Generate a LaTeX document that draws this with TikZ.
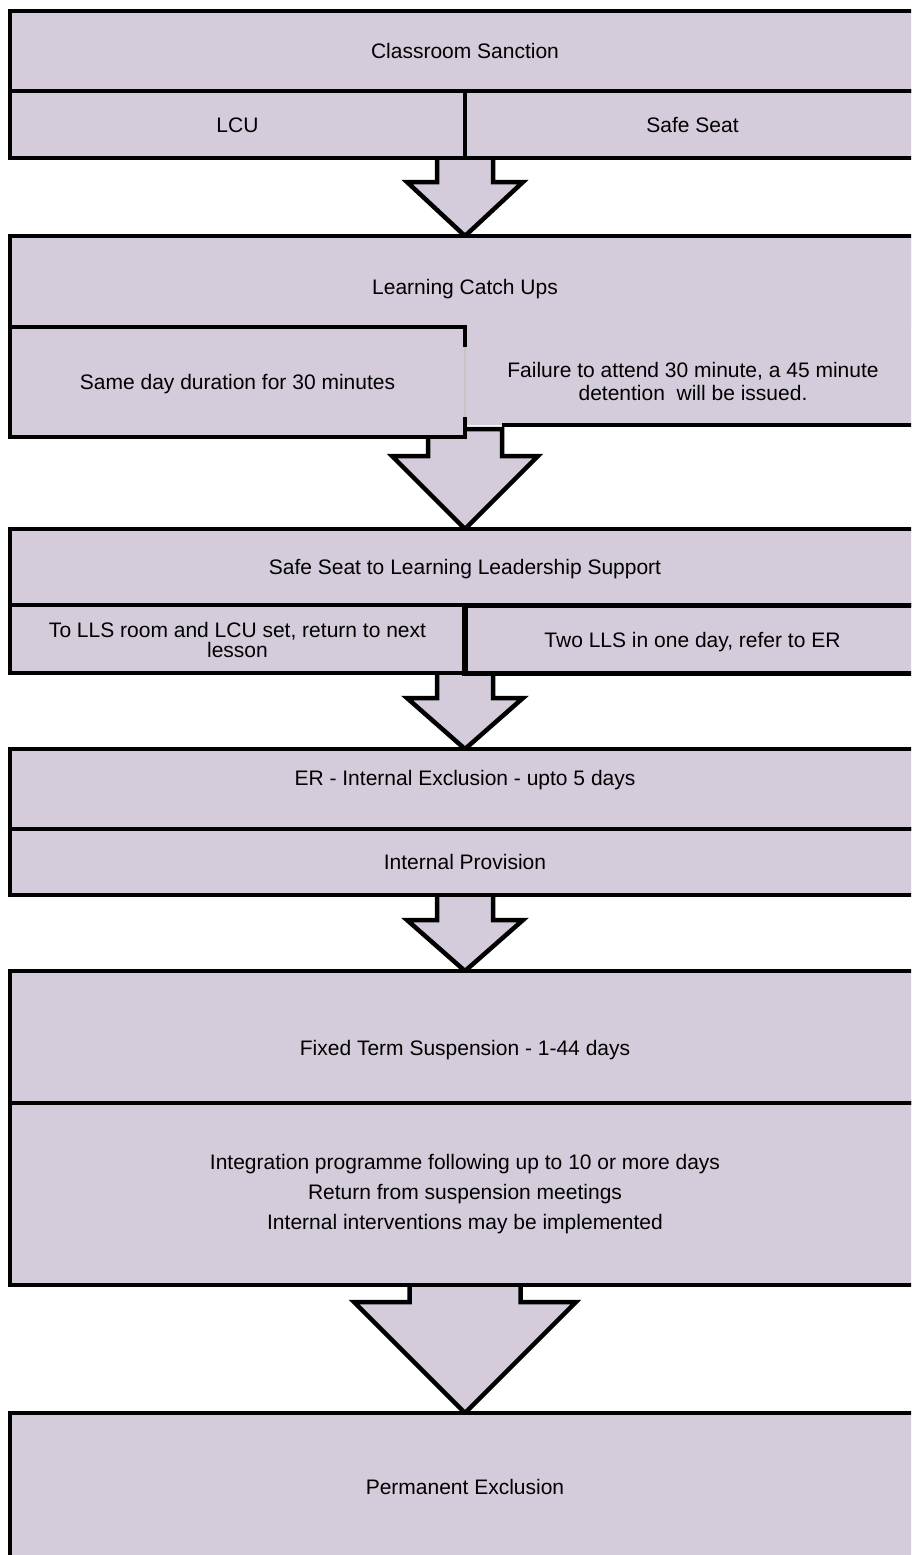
\documentclass[tikz,border=0pt]{standalone}
\usepackage{fontspec}
\setmainfont{Liberation Sans}
\usetikzlibrary{calc,backgrounds}
\definecolor{boxfill}{RGB}{212,204,218}
\newcommand\txtsize{\fontsize{21}{23}\selectfont}
\newcommand\barrow[5]{%
  \draw[blockarrow] let \p1=(#1), \p2=(#2) in
   (\x2-#3pt,\y1+8pt) -- (\x2-#3pt,\y2+#5pt) -- (\x2-#4pt,\y2+#5pt) -- (\p2)
   -- (\x2+#4pt,\y2+#5pt) -- (\x2+#3pt,\y2+#5pt) -- (\x2+#3pt,\y1+8pt) -- cycle;}
\begin{document}
\begin{tikzpicture}[x=1pt,y=-1pt,line join=miter,
  cell/.style={draw=black,fill=boxfill,line width=4.5pt,inner sep=0pt,outer sep=0pt,
    font=\txtsize,text height=15pt,text depth=0pt},
  fillonly/.style={fill=boxfill,inner sep=0pt,outer sep=0pt},
  lbl/.style={inner sep=0pt,font=\txtsize,text height=15pt,text depth=0pt},
  para/.style={inner sep=0pt,align=center},
  outline/.style={draw=black,line width=4.5pt},
  blockarrow/.style={draw=black,fill=boxfill,line width=4.5pt}]
\useasboundingbox (0,0) rectangle (911,1555);
\clip (0,0) rectangle (911,1555);

% ---- Stage 1
\node[cell,minimum width=910pt,minimum height=80pt] (cs) at (465,51) {Classroom Sanction};
\node[cell,minimum width=455pt,minimum height=67pt] (lcu) at (237.5,124.5) {LCU};
\node[cell,minimum width=455pt,minimum height=67pt] (ss) at (692.5,124.5) {Safe Seat};

% ---- Stage 2 (notched box)
\coordinate (b2tl) at (10,236);
\coordinate (b2tr) at (920,236);
\coordinate (b2br) at (920,425);
\coordinate (b2n) at (502,425);
\fill[boxfill] (b2tl) -- (b2tr) -- (b2br) -- (465,425) -- (465,437) -- (10,437) -- cycle;
\node[fillonly,minimum width=910pt,minimum height=91pt] (lcb) at (465,281.5) {};
\node[lbl] (lct) at (465,287) {Learning Catch Ups};
\node[fillonly,minimum width=455pt,minimum height=110pt,font=\txtsize,text height=15pt,text depth=0pt] (same) at (237.5,382) {Same day duration for 30 minutes};
\node[para,font=\fontsize{21}{23}\selectfont] (fail) at (693,381.5) {Failure to attend 30 minute, a 45 minute\\detention\ \ will be issued.};
\draw[outline] (b2n) -- (b2br) -- (b2tr) -- (b2tl) -- (same.south west) -- (same.south east) -- ++(0,-20);
\draw[outline] ($(same.north east)+(0,20)$) -- (same.north east) -- (same.north west);
\draw[gray!45,line width=1.5pt] ($(same.north east)+(0,20)$) -- ($(same.south east)+(0,-20)$);

% ---- Stage 3
\node[cell,minimum width=910pt,minimum height=76pt] (lls) at (465,567) {Safe Seat to Learning Leadership Support};
\node[cell,minimum width=455pt,minimum height=68pt] (tolls) at (237.5,639) {};
\node[para,font=\fontsize{21}{20}\selectfont] (tollst) at (237.5,640) {To LLS room and LCU set, return to next\\lesson};
\node[cell,line width=5.5pt,minimum width=455pt,minimum height=68pt] (two) at (692.5,639.5) {Two LLS in one day, refer to ER};

% ---- Stage 4
\node[cell,minimum width=910pt,minimum height=80pt] (er) at (465,789) {};
\node[lbl] (ert) at (465,778) {ER - Internal Exclusion - upto 5 days};
\node[cell,minimum width=910pt,minimum height=66pt] (ip) at (465,862) {Internal Provision};

% ---- Stage 5
\node[cell,minimum width=910pt,minimum height=132pt] (fts) at (465,1037) {};
\node[lbl] (ftst) at (465,1048) {Fixed Term Suspension - 1-44 days};
\node[cell,minimum width=910pt,minimum height=182pt] (integ) at (465,1194) {};
\node[para,font=\fontsize{21}{30}\selectfont] (integt) at (465,1194) {Integration programme following up to 10 or more days\\Return from suspension meetings\\Internal interventions may be implemented};

% ---- Stage 6
\node[cell,minimum width=910pt,minimum height=200pt] (pe) at (465,1513) {};
\node[lbl] (pet) at (465,1487) {Permanent Exclusion};

% ---- block arrows (behind boxes)
\begin{scope}[on background layer]
\barrow{lcu.south east}{lcb.north}{28}{58}{54}
\barrow{same.south east}{lls.north}{37}{73}{73}
\barrow{tolls.south east}{er.north}{28}{58}{51}
\barrow{ip.south}{fts.north}{28}{58}{51}
\barrow{integ.south}{pe.north}{55.5}{111}{111}
\end{scope}
\end{tikzpicture}
\end{document}
